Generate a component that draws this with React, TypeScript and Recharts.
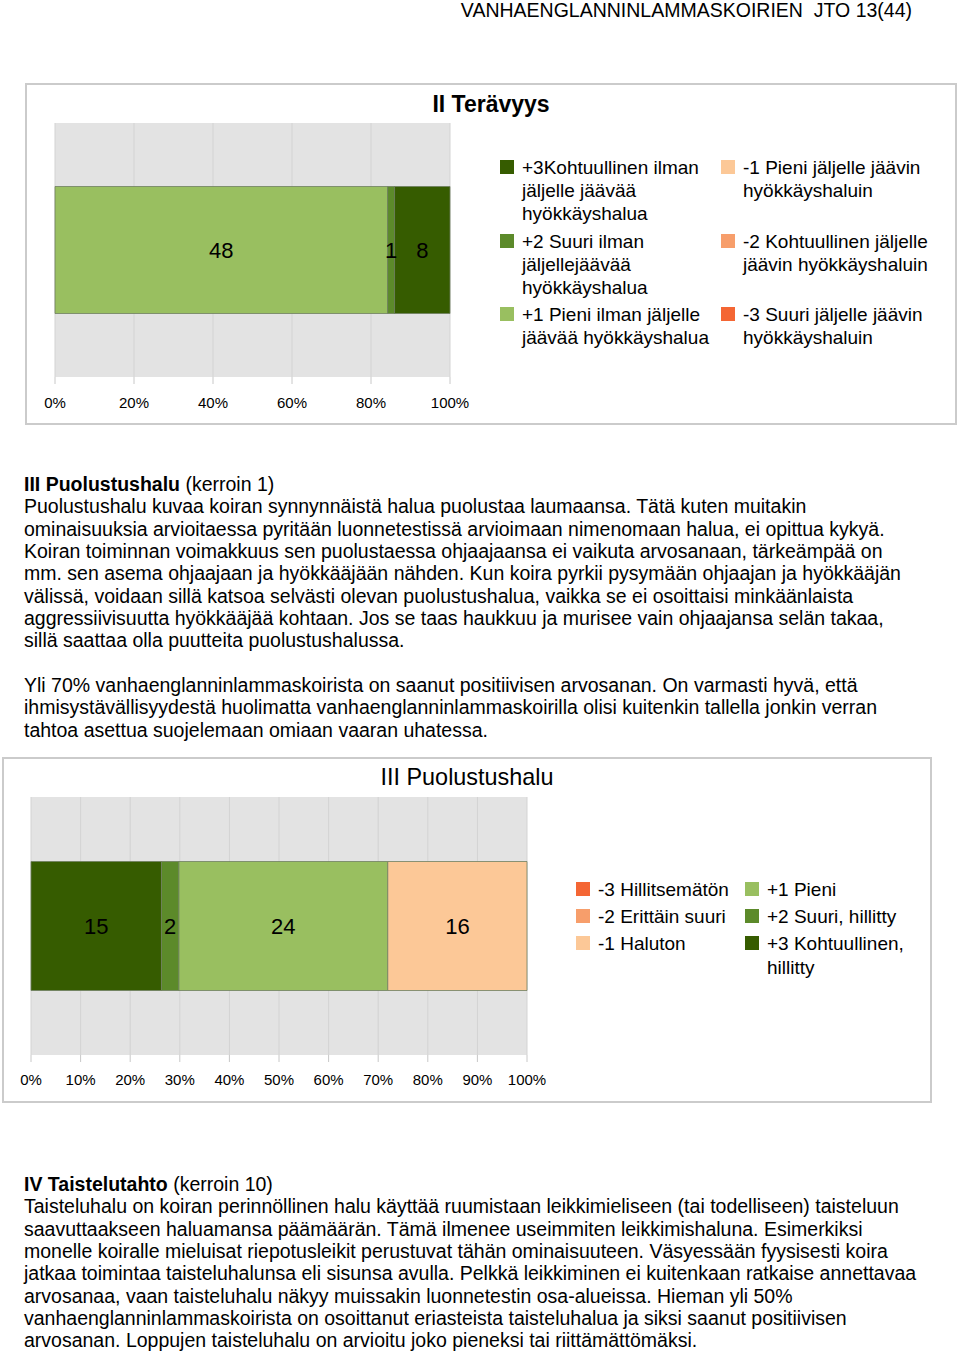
import React from "react";
import { BarChart, Bar, XAxis, YAxis, CartesianGrid, LabelList } from "recharts";

// II Terävyys
const teravyysLabels = [
  "+3Kohtuullinen ilman jäljelle jäävää hyökkäyshalua",
  "+2 Suuri ilman jäljellejäävää hyökkäyshalua",
  "+1 Pieni ilman jäljelle jäävää hyökkäyshalua",
  "-1 Pieni jäljelle jäävin hyökkäyshaluin",
  "-2 Kohtuullinen jäljelle jäävin hyökkäyshaluin",
  "-3 Suuri jäljelle jäävin hyökkäyshaluin",
];
const teravyysCounts = [8, 1, 48, 0, 0, 0];
const teravyysOrder = [2, 1, 0, 3, 4, 5];
const teravyysTicks = [0, 0.2, 0.4, 0.6, 0.8, 1];

// III Puolustushalu
const puolustusLabels = [
  "-3 Hillitsemätön",
  "-2 Erittäin suuri",
  "-1 Haluton",
  "+1 Pieni",
  "+2 Suuri, hillitty",
  "+3 Kohtuullinen, hillitty",
];
const puolustusCounts = [0, 0, 16, 24, 2, 15];
const puolustusOrder = [5, 4, 3, 2, 1, 0];
const puolustusTicks = [0, 0.1, 0.2, 0.3, 0.4, 0.5, 0.6, 0.7, 0.8, 0.9, 1];

const GREEN3 = "#365c00";
const GREEN2 = "#5c8a2a";
const GREEN1 = "#99bf60";
const ORANGE1 = "#fcc897";
const ORANGE2 = "#f79e6b";
const ORANGE3 = "#f46634";

const teravyysColors = [GREEN3, GREEN2, GREEN1, ORANGE1, ORANGE2, ORANGE3];
const puolustusColors = [ORANGE3, ORANGE2, ORANGE1, GREEN1, GREEN2, GREEN3];

const FONT = "'Liberation Sans', Arial, sans-serif";
const AXIS_H = 30;

const pct = (v: number) => `${Math.round(v * 100)}%`;

function StackedBar(props: {
  name: string;
  counts: number[];
  order: number[];
  colors: string[];
  ticks: number[];
  width: number;
  height: number;
  margin: { top: number; right: number; bottom: number; left: number };
  tickMargin: number;
}) {
  const { name, counts, order, colors, ticks, width, height, margin, tickMargin } = props;
  const row: Record<string, string | number> = { name };
  counts.forEach((c, i) => (row[`s${i}`] = c));
  const half = (height - margin.top - margin.bottom - AXIS_H) / 2;

  // small ticks at the band edges of the category axis
  const CatTick = (p: any) => (
    <g>
      <line x1={margin.left - 7} x2={margin.left} y1={p.y - half} y2={p.y - half} stroke="#c8c8c8" />
      <line x1={margin.left - 7} x2={margin.left} y1={p.y + half} y2={p.y + half} stroke="#c8c8c8" />
    </g>
  );

  return (
    <BarChart
      width={width}
      height={height}
      data={[row]}
      layout="vertical"
      stackOffset="expand"
      barCategoryGap="25%"
      margin={margin}
    >
      <CartesianGrid horizontal={false} stroke="#d3d3d3" fill="#e3e3e3" />
      <XAxis
        type="number"
        domain={[0, 1]}
        ticks={ticks}
        tickFormatter={pct}
        axisLine={false}
        tickLine={{ stroke: "#c8c8c8" }}
        tickSize={7}
        tickMargin={tickMargin}
        tick={{ fill: "#000", fontSize: 15 }}
        height={AXIS_H}
        interval={0}
      />
      <YAxis
        type="category"
        dataKey="name"
        width={0}
        axisLine={false}
        tickLine={false}
        tick={CatTick}
      />
      {order.map((i) => (
        <Bar
          key={i}
          dataKey={`s${i}`}
          stackId="a"
          fill={colors[i]}
          stroke="#6f7f5f"
          strokeWidth={0.8}
          isAnimationActive={false}
        >
          <LabelList
            dataKey={`s${i}`}
            position="center"
            fill="#000"
            fontSize={22}
            formatter={(v: any) => (v ? v : "")}
          />
        </Bar>
      ))}
    </BarChart>
  );
}

function Legend(props: {
  labels: string[];
  colors: string[];
  left: number;
  top: number;
  colWidth: number;
  textWidth: number;
  rowGap: number;
}) {
  const { labels, colors, left, top, colWidth, textWidth, rowGap } = props;
  return (
    <div
      style={{
        position: "absolute",
        left,
        top,
        display: "grid",
        gridTemplateRows: "auto auto auto",
        gridAutoFlow: "column",
        gridTemplateColumns: `${colWidth}px ${colWidth}px`,
        rowGap,
        fontSize: 19,
        lineHeight: "23.2px",
      }}
    >
      {labels.map((l, i) => (
        <div key={i} style={{ display: "flex", alignItems: "flex-start" }}>
          <div
            style={{
              width: 14,
              height: 14,
              marginTop: 4,
              marginRight: 8,
              background: colors[i],
              flexShrink: 0,
            }}
          />
          <div style={{ width: textWidth }}>{l}</div>
        </div>
      ))}
    </div>
  );
}

function Para(props: { top: number; lines: React.ReactNode[] }) {
  return (
    <div
      style={{
        position: "absolute",
        left: 24,
        top: props.top,
        fontSize: 19.5,
        lineHeight: "22.35px",
        whiteSpace: "nowrap",
      }}
    >
      {props.lines.map((l, i) => (
        <div key={i} style={{ height: 22.35 }}>
          {l}
        </div>
      ))}
    </div>
  );
}

export default function App() {
  return (
    <div
      style={{
        position: "absolute",
        left: 0,
        top: 0,
        width: 960,
        height: 1352,
        background: "#fff",
        fontFamily: FONT,
        color: "#000",
        overflow: "hidden",
      }}
    >
      <div
        style={{
          position: "absolute",
          right: 48,
          top: -1,
          fontSize: 19.5,
          lineHeight: "22px",
        }}
      >
        VANHAENGLANNINLAMMASKOIRIEN&nbsp; JTO 13(44)
      </div>

      {/* II Terävyys */}
      <div
        style={{
          position: "absolute",
          left: 25,
          top: 83,
          width: 932,
          height: 342,
          boxSizing: "border-box",
          border: "2px solid #cbcbcb",
        }}
      />
      <div
        style={{
          position: "absolute",
          left: 25,
          width: 932,
          top: 90,
          textAlign: "center",
          fontSize: 23,
          fontWeight: "bold",
          lineHeight: "28px",
        }}
      >
        II Terävyys
      </div>
      <div style={{ position: "absolute", left: 25, top: 83 }}>
        <StackedBar
          name="II Terävyys"
          counts={teravyysCounts}
          order={teravyysOrder}
          colors={teravyysColors}
          ticks={teravyysTicks}
          width={465}
          height={342}
          margin={{ top: 40, right: 40, bottom: 18, left: 30 }}
          tickMargin={13}
        />
      </div>
      <Legend
        labels={teravyysLabels}
        colors={teravyysColors}
        left={500}
        top={156}
        colWidth={221}
        textWidth={192}
        rowGap={4}
      />

      <Para
        top={473}
        lines={[
          <span>
            <b>III Puolustushalu</b> (kerroin 1)
          </span>,
          "Puolustushalu kuvaa koiran synnynnäistä halua puolustaa laumaansa. Tätä kuten muitakin",
          "ominaisuuksia arvioitaessa pyritään luonnetestissä arvioimaan nimenomaan halua, ei opittua kykyä.",
          "Koiran toiminnan voimakkuus sen puolustaessa ohjaajaansa ei vaikuta arvosanaan, tärkeämpää on",
          "mm. sen asema ohjaajaan ja hyökkääjään nähden. Kun koira pyrkii pysymään ohjaajan ja hyökkääjän",
          "välissä, voidaan sillä katsoa selvästi olevan puolustushalua, vaikka se ei osoittaisi minkäänlaista",
          "aggressiivisuutta hyökkääjää kohtaan. Jos se taas haukkuu ja murisee vain ohjaajansa selän takaa,",
          "sillä saattaa olla puutteita puolustushalussa.",
          "",
          "Yli 70% vanhaenglanninlammaskoirista on saanut positiivisen arvosanan. On varmasti hyvä, että",
          "ihmisystävällisyydestä huolimatta vanhaenglanninlammaskoirilla olisi kuitenkin tallella jonkin verran",
          "tahtoa asettua suojelemaan omiaan vaaran uhatessa.",
        ]}
      />

      {/* III Puolustushalu */}
      <div
        style={{
          position: "absolute",
          left: 2,
          top: 757,
          width: 930,
          height: 346,
          boxSizing: "border-box",
          border: "2px solid #cbcbcb",
        }}
      />
      <div
        style={{
          position: "absolute",
          left: 2,
          width: 930,
          top: 763,
          textAlign: "center",
          fontSize: 23.4,
          lineHeight: "28px",
        }}
      >
        III Puolustushalu
      </div>
      <div style={{ position: "absolute", left: 2, top: 757 }}>
        <StackedBar
          name="III Puolustushalu"
          counts={puolustusCounts}
          order={puolustusOrder}
          colors={puolustusColors}
          ticks={puolustusTicks}
          width={565}
          height={346}
          margin={{ top: 40, right: 40, bottom: 18, left: 29 }}
          tickMargin={12}
        />
      </div>
      <Legend
        labels={puolustusLabels}
        colors={puolustusColors}
        left={576}
        top={878}
        colWidth={169}
        textWidth={150}
        rowGap={4}
      />

      <Para
        top={1173}
        lines={[
          <span>
            <b>IV Taistelutahto</b> (kerroin 10)
          </span>,
          "Taisteluhalu on koiran perinnöllinen halu käyttää ruumistaan leikkimieliseen (tai todelliseen) taisteluun",
          "saavuttaakseen haluamansa päämäärän. Tämä ilmenee useimmiten leikkimishaluna. Esimerkiksi",
          "monelle koiralle mieluisat riepotusleikit perustuvat tähän ominaisuuteen. Väsyessään fyysisesti koira",
          "jatkaa toimintaa taisteluhalunsa eli sisunsa avulla. Pelkkä leikkiminen ei kuitenkaan ratkaise annettavaa",
          "arvosanaa, vaan taisteluhalu näkyy muissakin luonnetestin osa-alueissa. Hieman yli 50%",
          "vanhaenglanninlammaskoirista on osoittanut eriasteista taisteluhalua ja siksi saanut positiivisen",
          "arvosanan. Loppujen taisteluhalu on arvioitu joko pieneksi tai riittämättömäksi.",
        ]}
      />
    </div>
  );
}
